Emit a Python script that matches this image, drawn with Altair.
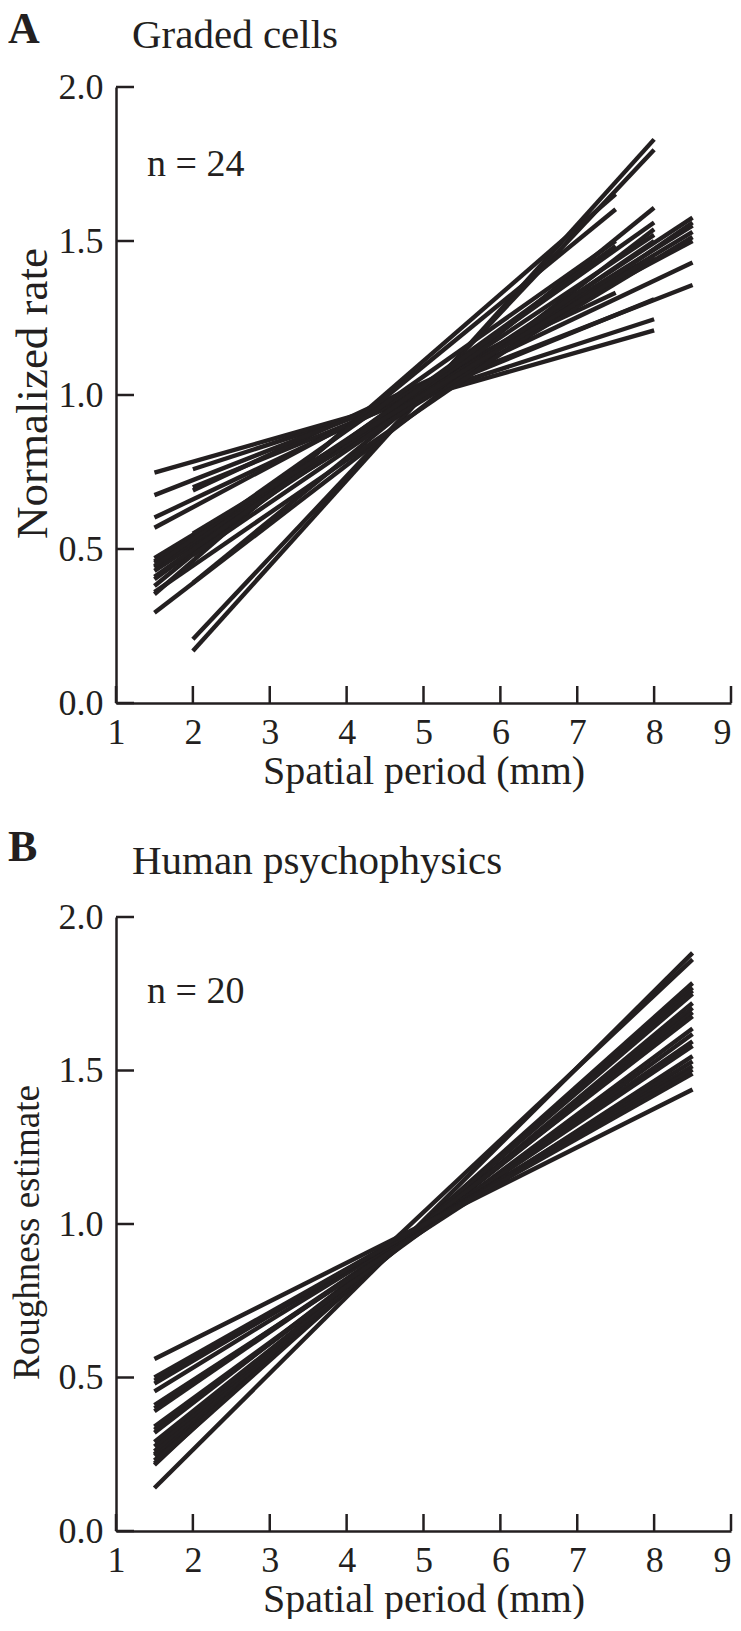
import altair as alt
import pandas as pd

INK = "#231f20"
FONT = "Liberation Serif"

# ---------------- Panel A: graded cells (24 regression lines) ----------------
a_x0 = [2.0, 2.0, 2.0, 2.0, 2.0, 2.0, 1.5, 1.5, 1.5, 1.5, 1.5, 1.5,
        1.5, 1.5, 1.5, 1.5, 1.5, 1.5, 1.5, 1.5, 2.0, 1.5, 1.5, 2.0]
a_y0 = [0.169, 0.207, 0.39, 0.70, 0.759, 0.69, 0.748, 0.675, 0.602, 0.569, 0.47, 0.455,
        0.429, 0.353, 0.38, 0.293, 0.402, 0.44, 0.46, 0.41, 0.48, 0.36, 0.445, 0.55]
a_x1 = [8.0, 8.0, 8.0, 8.0, 8.0, 7.5, 8.0, 8.5, 8.5, 8.5, 8.5, 8.5,
        8.5, 7.5, 7.5, 8.0, 7.5, 8.0, 8.5, 8.0, 8.0, 8.5, 7.5, 8.0]
a_y1 = [1.83, 1.796, 1.608, 1.311, 1.246, 1.332, 1.21, 1.357, 1.43, 1.50, 1.53, 1.513,
        1.576, 1.652, 1.603, 1.538, 1.484, 1.52, 1.55, 1.56, 1.50, 1.56, 1.50, 1.45]

# ---------------- Panel B: human psychophysics (20 lines) ----------------
b_x0 = [1.5] * 20
b_y0 = [0.14, 0.215, 0.22, 0.23, 0.245, 0.25, 0.26, 0.275, 0.29, 0.32,
        0.33, 0.34, 0.39, 0.40, 0.41, 0.455, 0.48, 0.49, 0.50, 0.56]
b_x1 = [8.5] * 20
b_y1 = [1.883, 1.862, 1.785, 1.77, 1.76, 1.75, 1.72, 1.704, 1.69, 1.677,
        1.637, 1.619, 1.595, 1.58, 1.547, 1.53, 1.514, 1.503, 1.49, 1.438]

x_ticks = [1, 2, 3, 4, 5, 6, 7, 8, 9]
y_ticks = [0.0, 0.5, 1.0, 1.5, 2.0]

panel_letters = ["A", "B"]
panel_titles = ["Graded cells", "Human psychophysics"]
n_labels = ["n = 24", "n = 20"]
y_titles = ["Normalized rate", "Roughness estimate"]
x_title = "Spatial period (mm)"

W = 615
HEIGHTS = [616, 614]
Y_TITLE_SIZE = [45, 37]
Y_TITLE_X = [-70, -78]
Y_TITLE_Y = [306, 315]
LETTER_Y = [-44, -56]
TITLE_Y = [-39, -43]
N_Y = [89, 86]


def long_df(x0, y0, x1, y1):
    rows = []
    for i in range(len(x0)):
        rows.append({"line": i, "x": x0[i], "y": y0[i]})
        rows.append({"line": i, "x": x1[i], "y": y1[i]})
    return pd.DataFrame(rows)


def panel(df, idx):
    H = HEIGHTS[idx]
    xenc = alt.X(
        "x:Q",
        scale=alt.Scale(domain=[1, 9], nice=False, zero=False),
        axis=alt.Axis(values=x_ticks, title=x_title, format="d", ticks=False,
                      labelPadding=12, titlePadding=1, labelFlush=False,
                      labelAlign={"condition": {"test": "datum.value == 9", "value": "right"},
                                  "value": "center"}),
    )
    yenc = alt.Y(
        "y:Q",
        scale=alt.Scale(domain=[0, 2], nice=False),
        axis=alt.Axis(values=y_ticks, title=y_titles[idx], format=".1f", ticks=False,
                      labelPadding=13, titleX=Y_TITLE_X[idx], titleY=Y_TITLE_Y[idx],
                      titleFontSize=Y_TITLE_SIZE[idx],
                      titleBaseline="alphabetic", labelFlush=False),
    )
    lines = alt.Chart(df).mark_line(
        color=INK, strokeWidth=4.4, strokeCap="butt"
    ).encode(x=xenc, y=yenc, detail="line:N")

    xt = alt.Chart(pd.DataFrame({"x": x_ticks})).mark_rule(
        color=INK, strokeWidth=2.5
    ).encode(x=xenc, y=alt.value(H), y2=alt.value(H - 17))
    yt = alt.Chart(pd.DataFrame({"y": y_ticks})).mark_rule(
        color=INK, strokeWidth=2.5
    ).encode(y=yenc, x=alt.value(0), x2=alt.value(18))

    letter = alt.Chart(pd.DataFrame({"t": [panel_letters[idx]]})).mark_text(
        font=FONT, fontSize=44, fontWeight="bold", color=INK,
        align="left", baseline="alphabetic"
    ).encode(text="t:N", x=alt.value(-108), y=alt.value(LETTER_Y[idx]))
    title = alt.Chart(pd.DataFrame({"t": [panel_titles[idx]]})).mark_text(
        font=FONT, fontSize=41, color=INK, align="left", baseline="alphabetic"
    ).encode(text="t:N", x=alt.value(16), y=alt.value(TITLE_Y[idx]))
    nlab = alt.Chart(pd.DataFrame({"t": [n_labels[idx]]})).mark_text(
        font=FONT, fontSize=38, color=INK, align="left", baseline="alphabetic"
    ).encode(text="t:N", x=alt.value(31), y=alt.value(N_Y[idx]))

    return alt.layer(lines, xt, yt, letter, title, nlab).properties(width=W, height=H)


chart = alt.vconcat(
    panel(long_df(a_x0, a_y0, a_x1, a_y1), 0),
    panel(long_df(b_x0, b_y0, b_x1, b_y1), 1),
    spacing=35,
).configure_view(stroke=None).configure_axis(
    grid=False,
    domainColor=INK,
    domainWidth=2.5,
    labelFont=FONT,
    labelFontSize=36,
    labelColor=INK,
    titleFont=FONT,
    titleFontSize=40,
    titleFontWeight="normal",
    titleColor=INK,
).properties(padding=0, background="white")

chart.save("out.html", embed_options={"renderer": "svg", "actions": False})
